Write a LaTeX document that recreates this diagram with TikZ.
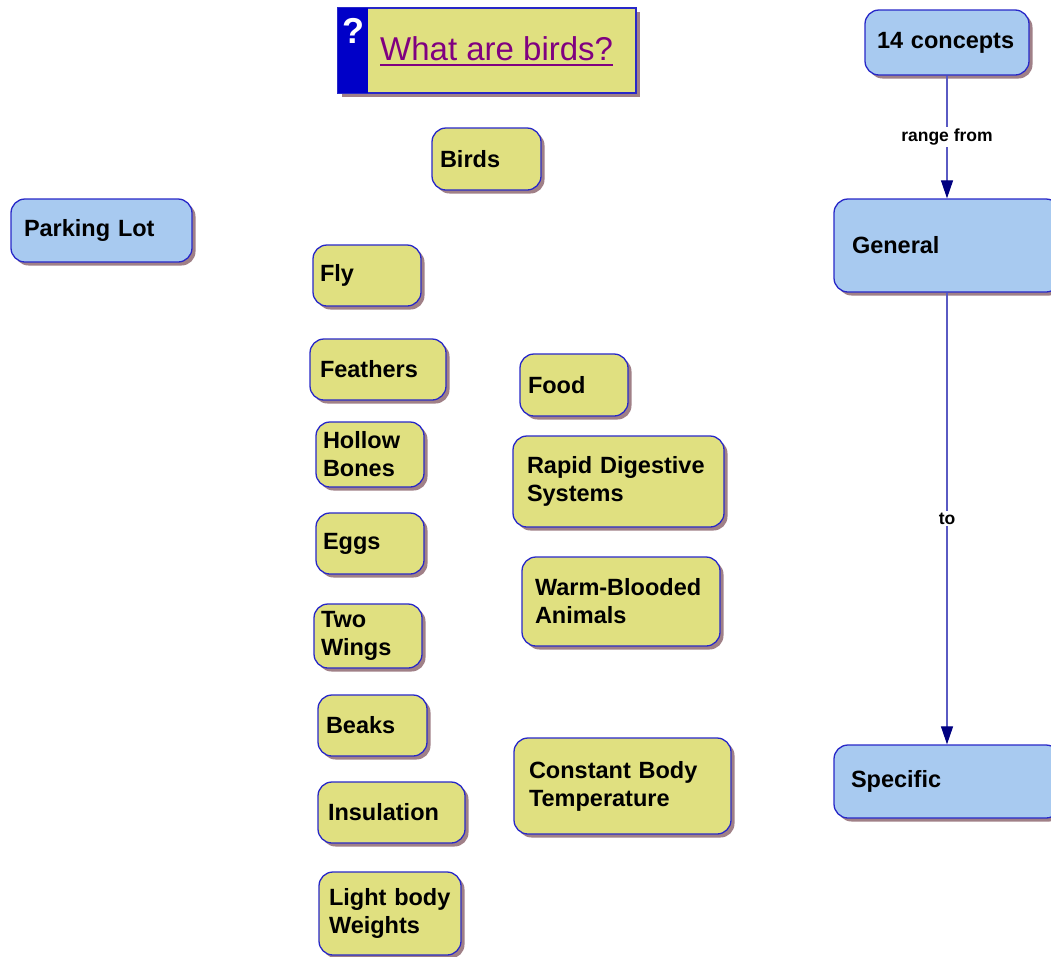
\documentclass[tikz,border=0pt]{standalone}
\usepackage{fontspec}
\setmainfont{Liberation Sans}
\usetikzlibrary{shadows,arrows.meta,calc}
\definecolor{yfill}{RGB}{224,224,128}
\definecolor{bfill}{RGB}{168,202,240}
\definecolor{bord}{RGB}{40,40,200}
\definecolor{shad}{RGB}{160,128,135}
\definecolor{linec}{RGB}{90,90,195}
\definecolor{headc}{RGB}{0,0,128}
\definecolor{stripc}{RGB}{0,0,200}
\definecolor{titlec}{RGB}{128,0,128}
\newcommand\mkbox[8]{%
  \pgfmathsetmacro\boxtw{#5-#3-2*#7}%
  \pgfmathsetmacro\boxh{#6-#4}%
  \pgfmathsetmacro\boxcx{(#3+#5)/2}%
  \pgfmathsetmacro\boxcy{(#4+#6)/2}%
  \node[#1, minimum height=\boxh pt, text width=\boxtw pt, inner xsep=#7pt] (#2) at (\boxcx,\boxcy) {#8};}
\begin{document}
\begin{tikzpicture}[x=1pt,y=-1pt,
  concept/.style={draw=bord, line width=1.3pt, rounded corners=14pt, align=left,
    inner ysep=0pt, font=\fontsize{23.5}{28}\selectfont\bfseries,
    drop shadow={shadow xshift=3.5pt, shadow yshift=-3.5pt, fill=shad, opacity=1}},
  yconcept/.style={concept, fill=yfill},
  bconcept/.style={concept, fill=bfill},
  conn/.style={draw=linec, line width=1.2pt, -{Triangle[length=18pt,width=12pt,color=headc]}},
  elabel/.style={fill=white, inner sep=2pt, font=\fontsize{17.5}{17.5}\selectfont\bfseries}]
\useasboundingbox (0,0) rectangle (1051,956);

% title
\node[draw=bord, fill=yfill, line width=1.3pt, minimum width=298pt, minimum height=85pt,
  drop shadow={shadow xshift=3.5pt, shadow yshift=-3.5pt, fill=shad, opacity=1}] (titlebox) at (487,50.5) {};
\fill[stripc] (titlebox.north west) rectangle ($(titlebox.south west)+(31,0)$);
\draw[bord, line width=1.3pt] (titlebox.north west) rectangle (titlebox.south east);
\node[anchor=base west, inner sep=0pt, text=white, font=\fontsize{36}{36}\selectfont\bfseries] (qmark) at (342,43) {?};
\node[anchor=base west, inner sep=0pt, text=titlec, font=\fontsize{33}{33}\selectfont] (ttext) at (380,60) {What are birds?};
\draw[titlec, line width=2.6pt] ($(ttext.base west)+(0,5)$) -- ($(ttext.base east)+(0,5)$);

% concepts
\mkbox{yconcept}{birds}{432}{128}{541}{190}{8}{Birds}
\mkbox{bconcept}{parking}{11}{199}{192}{262}{13}{Parking Lot}
\mkbox{yconcept}{fly}{313}{245}{421}{306}{7}{Fly}
\mkbox{yconcept}{feathers}{310}{339}{446}{400}{10}{Feathers}
\mkbox{yconcept}{hollow}{316}{422}{424}{487}{7}{Hollow\\Bones}
\mkbox{yconcept}{eggs}{316}{513}{424}{574}{7}{Eggs}
\mkbox{yconcept}{wings}{314}{604}{422}{668}{7}{Two\\Wings}
\mkbox{yconcept}{beaks}{318}{695}{427}{756}{8}{Beaks}
\mkbox{yconcept}{insulation}{318}{782}{465}{843}{10}{Insulation}
\mkbox{yconcept}{light}{319}{872}{461}{955}{10}{Light body\\Weights}
\mkbox{yconcept}{food}{520}{354}{628}{416}{8}{Food}
\mkbox{yconcept}{rapid}{513}{436}{724}{527}{14}{Rapid Digestive\\Systems}
\mkbox{yconcept}{warm}{522}{557}{720}{646}{13}{Warm-Blooded\\Animals}
\mkbox{yconcept}{constant}{514}{738}{731}{834}{15}{Constant Body\\Temperature}
\mkbox{bconcept}{c14}{865}{10}{1029}{75}{12}{14 concepts}
\mkbox{bconcept}{general}{834}{199}{1060}{292}{18}{General}
\mkbox{bconcept}{specific}{834}{745}{1060}{818}{17}{Specific}

% links
\draw[conn] (c14) -- node[elabel] (lab1) {range from} (general);
\draw[conn] (general) -- node[elabel] (lab2) {to} (specific);
\end{tikzpicture}
\end{document}
